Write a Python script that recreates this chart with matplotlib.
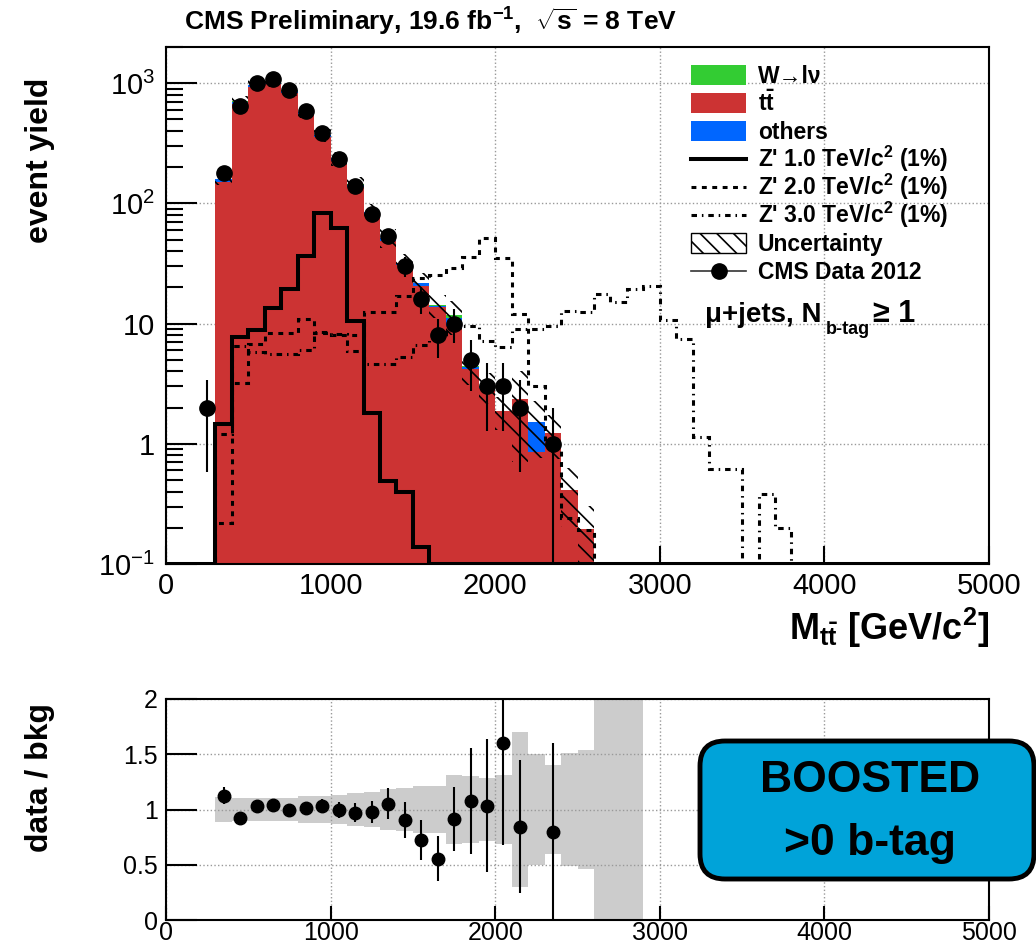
import numpy as np
import matplotlib
matplotlib.use('Agg')
import matplotlib.pyplot as plt
from matplotlib.patches import Rectangle, FancyBboxPatch
from matplotlib.lines import Line2D
from matplotlib.ticker import FixedLocator, NullLocator, LogLocator

plt.rcParams['font.family'] = ['Liberation Sans', 'DejaVu Sans']
plt.rcParams['mathtext.fontset'] = 'custom'
plt.rcParams['mathtext.rm'] = 'Liberation Sans'
plt.rcParams['mathtext.bf'] = 'Liberation Sans:bold'
plt.rcParams['mathtext.it'] = 'Liberation Sans:italic'
plt.rcParams['hatch.linewidth'] = 1.2

# --- data (100 GeV bins) ---
edges = np.arange(0, 5001, 100)

bkg_start = 300
ttbar = [150.5, 668, 922, 982, 827, 550, 353.5, 226, 136.4, 80.6, 49.1, 30.5,
         20.45, 13.7, 9.6, 4.2, 2.93, 1.87, 2.36, 0.85, 1.24, 0.415, 0.197]
others = [9, 35, 45, 50, 40, 26, 17, 11, 7, 4, 2.6, 1.3, 1.2, 0.4, 1.6, 0.15,
          0.05, 0, 0, 0.66, 0, 0, 0]
wjets = [0.5, 2, 3, 3, 3, 2, 1.5, 1, 0.6, 0.4, 0.3, 0.2, 0.15, 0.1, 0.5, 0.05,
         0.02, 0, 0, 0, 0, 0, 0]
rel_unc = [0.114, 0.105, 0.10, 0.10, 0.105, 0.12, 0.126, 0.135, 0.145, 0.156,
           0.186, 0.195, 0.213, 0.215, 0.31, 0.30, 0.285, 0.31, 0.70, 0.50,
           0.40, 0.51, 0.54]
empty_band_bins = [2600, 2700, 2800]

data_start = 200
data = [2, 180, 648, 1000, 1087, 881, 582, 384, 236, 139, 82, 54, 30, 16, 8,
        10, 5, 3, 3, 2, 0, 1]

sig_start = 300
zp1 = [1.46, 7.8, 8.8, 13.6, 19.5, 36.5, 83, 63, 10.5, 1.8, 0.495, 0.397, 0.138]
zp2 = [0.22, 3.2, 6.7, 8.4, 8.4, 10.9, 8.3, 8.1, 8.0, 12.4, 12.5, 17, 24, 25.5,
       29, 36, 52, 35, 12, 3.0, 0.95, 0.24, 0.19]
zp3 = [1.2, 6.5, 5.8, 5.6, 5.6, 6.0, 8.5, 8.2, 5.9, 4.6, 4.6, 5.3, 6.6, 7.6,
       9.3, 9.5, 7.1, 6.4, 9.0, 9.1, 9.5, 12.7, 12.6, 17.5, 15, 19.5, 20.5,
       10.7, 7.4, 1.15, 0.62, 0.62, 0, 0.38, 0.2]

ratio_x = [350, 450, 550, 650, 750, 850, 950, 1050, 1150, 1250, 1350, 1450,
           1550, 1650, 1750, 1850, 1950, 2050, 2150, 2350]
ratio = [1.126, 0.925, 1.036, 1.042, 1.0, 1.012, 1.036, 0.994, 0.97, 0.976,
         1.054, 0.904, 0.724, 0.556, 0.91, 1.081, 1.036, 1.60, 0.844, 0.80]
ratio_err = [0.075, 0.04, 0.035, 0.035, 0.035, 0.045, 0.055, 0.07, 0.085, 0.1,
             0.14, 0.165, 0.18, 0.2, 0.29, 0.48, 0.6, 0.92, 0.6, 0.8]

legend_labels = [
    'W\u2192l\u03bd',
    r'$\mathbf{t\bar{t}}$',
    'others',
    r"Z' 1.0 TeV/c$^{\mathbf{2}}$ (1%)",
    r"Z' 2.0 TeV/c$^{\mathbf{2}}$ (1%)",
    r"Z' 3.0 TeV/c$^{\mathbf{2}}$ (1%)",
    'Uncertainty',
    'CMS Data 2012',
]

RED = '#cc3333'
BLUE = '#0066ff'
GREEN = '#33cc33'
DASH = (0, (1.6, 1.8))
DASHDOT = (0, (1.8, 1.6, 0.5, 1.6))


def full(vals, start):
    arr = np.zeros(len(edges) - 1)
    i = start // 100
    arr[i:i + len(vals)] = vals
    return arr


W, H = 1036, 950


def fx(px):
    return px / W


def fy(py):
    return 1 - py / H


fig = plt.figure(figsize=(W / 100, H / 100), dpi=100)
ax = fig.add_axes([fx(166), fy(564), 823 / W, 517 / H])
ax2 = fig.add_axes([fx(166), fy(920), 823 / W, 221 / H])

left = edges[:-1]
tt = full(ttbar, bkg_start)
ot = full(others, bkg_start)
wj = full(wjets, bkg_start)
tot = tt + ot + wj
unc = full(rel_unc, bkg_start)

ax.set_yscale('log')
ax.bar(left, tt, width=100, align='edge', color=RED, lw=0)
ax.bar(left, ot, bottom=tt, width=100, align='edge', color=BLUE, lw=0)
ax.bar(left, wj, bottom=tt + ot, width=100, align='edge', color=GREEN, lw=0)

m = tot > 0
lo = tot * (1 - unc)
hi = tot * (1 + unc)
ax.bar(left[m], (hi - lo)[m], bottom=lo[m], width=100, align='edge',
       fill=False, hatch='\\\\', edgecolor='k', lw=0)

ax.stairs(np.maximum(full(zp1, sig_start), 0.1), edges, baseline=None,
          color='k', lw=2.9)
ax.stairs(np.maximum(full(zp2, sig_start), 0.1), edges, baseline=None,
          color='k', lw=2.2, linestyle=DASH)
ax.stairs(np.maximum(full(zp3, sig_start), 0.1), edges, baseline=None,
          color='k', lw=2.2, linestyle=DASHDOT)

n = full(data, data_start)
centers = left + 50
md = n > 0
err = np.sqrt(n)
ax.errorbar(centers[md], n[md], yerr=[err[md], err[md]], fmt='o', color='k',
            ms=11, elinewidth=1.5, capsize=0, zorder=5)

ax.set_xlim(0, 5000)
ax.set_ylim(0.1, 2000)
ax.yaxis.set_major_locator(FixedLocator([0.1, 1, 10, 100, 1000]))
ax.set_yticklabels([r'$\mathrm{10^{-1}}$', '1', '10', r'$\mathrm{10^{2}}$',
                    r'$\mathrm{10^{3}}$'])
ax.yaxis.set_minor_locator(LogLocator(base=10, subs=np.arange(2, 10)))
ax.set_xticks([0, 1000, 2000, 3000, 4000, 5000])
ax.xaxis.set_minor_locator(NullLocator())
ax.tick_params(axis='both', which='both', direction='in', top=False,
               right=False, width=1.5, labelsize=21)
ax.tick_params(axis='y', which='major', length=22, pad=8)
ax.tick_params(axis='y', which='minor', length=12)
ax.tick_params(axis='x', which='major', length=13, pad=6)
ax.grid(True, which='major', ls=':', color='#999999', lw=1)
ax.set_axisbelow(True)
for s in ax.spines.values():
    s.set_linewidth(1.5)

# ratio panel
ax2.bar(left[m], 2 * unc[m], bottom=1 - unc[m], width=100, align='edge',
        color='#cccccc', lw=0)
ax2.bar(empty_band_bins, 2.2, bottom=-0.1, width=100, align='edge',
        color='#cccccc', lw=0)
ax2.errorbar(ratio_x, ratio, yerr=ratio_err, fmt='o', color='k', ms=9,
             elinewidth=1.5, capsize=0)
ax2.set_xlim(0, 5000)
ax2.set_ylim(0, 2)
ax2.set_yticks([0, 0.5, 1, 1.5, 2])
ax2.set_yticklabels(['0', '0.5', '1', '1.5', '2'])
ax2.set_xticks([0, 1000, 2000, 3000, 4000, 5000])
ax2.tick_params(axis='both', direction='in', top=False, right=False,
                width=1.5, labelsize=18)
ax2.tick_params(axis='y', length=22, pad=6)
ax2.tick_params(axis='x', length=10, pad=1)
ax2.grid(True, ls=':', color='#999999', lw=1)
ax2.set_axisbelow('line')
for s in ax2.spines.values():
    s.set_linewidth(1.5)

fig.text(fx(431), fy(22), r'CMS Preliminary, 19.6 fb$^{\mathbf{-1}}$,  '
         r'$\mathbf{\sqrt{s}}$ = 8 TeV', ha='center', va='center',
         fontsize=19, weight='bold')
fig.text(fx(40), fy(160), 'event yield', rotation=90, ha='center',
         va='center', fontsize=23, weight='bold')
fig.text(fx(40), fy(778), 'data / bkg', rotation=90, ha='center',
         va='center', fontsize=23, weight='bold')
fig.text(fx(989), fy(628), r'$\mathbf{M_{t\bar{t}}}$ [GeV/c$^{\mathbf{2}}$]',
         ha='right', va='center', fontsize=26, weight='bold')

fig.text(fx(705), fy(322), '\u03bc+jets, N', ha='left', va='baseline',
         fontsize=20, weight='bold')
fig.text(fx(826), fy(334), 'b-tag', ha='left', va='baseline',
         fontsize=13, weight='bold')
fig.text(fx(873), fy(322), '\u2265 1', ha='left', va='baseline',
         fontsize=22, weight='bold')

# legend, drawn row by row
trans = fig.transFigure
for i, label in enumerate(legend_labels):
    yc = 75 + 28 * i
    if i < 3:
        fig.add_artist(Rectangle((fx(691), fy(yc + 10)), 55 / W, 20 / H,
                                 transform=trans, lw=0,
                                 facecolor=[GREEN, RED, BLUE][i]))
    elif i < 6:
        style = ['-', DASH, DASHDOT][i - 3]
        lw = 2.9 if i == 3 else 2.2
        fig.add_artist(Line2D([fx(691), fx(746)], [fy(yc), fy(yc)],
                              transform=trans, color='k', lw=lw,
                              linestyle=style))
    elif i == 6:
        fig.add_artist(Rectangle((fx(691), fy(yc + 10)), 55 / W, 20 / H,
                                 transform=trans, facecolor='white',
                                 edgecolor='k', hatch='\\\\', lw=1.0))
    else:
        fig.add_artist(Line2D([fx(691), fx(746)], [fy(yc), fy(yc)],
                              transform=trans, color='#333333', lw=1.2))
        fig.add_artist(Line2D([fx(718.5)], [fy(yc)], transform=trans,
                              color='k', marker='o', ms=11))
    fig.text(fx(758), fy(yc + 8), label, ha='left', va='baseline',
             fontsize=16.5, weight='bold')

box = FancyBboxPatch((7.0, 0.71), 3.34, 1.38,
                     boxstyle='round,pad=0,rounding_size=0.25',
                     transform=fig.dpi_scale_trans, facecolor='#00a3d9',
                     edgecolor='k', lw=3.5)
fig.add_artist(box)
fig.text(fx(870), fy(780), 'BOOSTED', ha='center', va='center', fontsize=32,
         weight='bold')
fig.text(fx(870), fy(843), '>0 b-tag', ha='center', va='center', fontsize=32,
         weight='bold')

fig.savefig('out.png', dpi=100)
